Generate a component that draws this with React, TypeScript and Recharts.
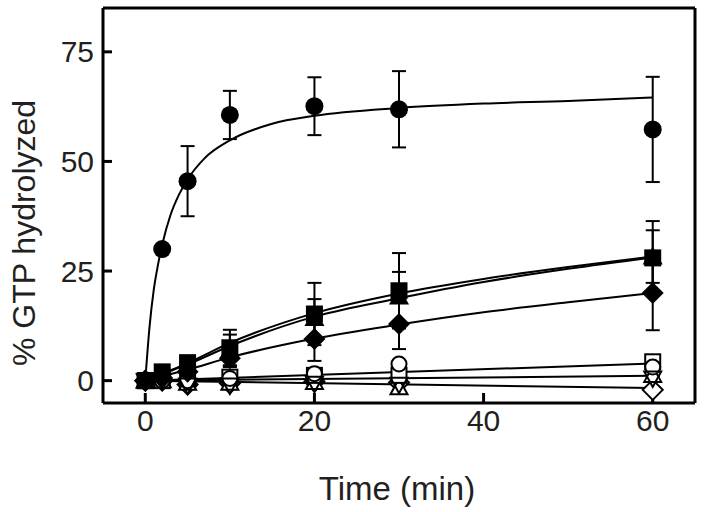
import React from "react";
import { ComposedChart, Scatter, XAxis, YAxis, ErrorBar } from "recharts";

// sampling times (min)
const times = [0, 2, 5, 10, 20, 30, 60];

// filled symbols
const filledCircle = [0, 30, 45.5, 60.6, 62.6, 61.9, 57.3];
const filledCircleErr = [0, 0, 8, 5.5, 6.6, 8.7, 12];
const filledTriangle = [0, 1.5, 3.6, 7, 14.3, 19.2, 28.3];
const filledTriangleErr = [0, 0, 0.5, 3.5, 4.3, 5.6, 6];
const filledSquare = [0, 2, 4.1, 7.5, 15.2, 20.5, 28];
const filledSquareErr = [0, 0, 0.6, 4.1, 7.1, 8.6, 8.4];
const filledDiamond = [0, 0.6, 2, 5.1, 9.5, 12.9, 20];
const filledDiamondErr = [0, 0, 1, 2, 5, 5.7, 8.5];

// open symbols
const openCircle = [0, 0, 0, 0.5, 1.6, 3.8, 3.1];
const openSquare = [0, 0, 0.4, 0.8, 1.2, 1.2, 4.3];
const openTriUp = [0, 0, -0.6, -0.6, -0.4, -1.6, 1.2];
const openTriDown = [0, 0, -1, -1, -0.6, -0.8, 0.6];
const openDiamond = [0, 0, -0.9, -0.6, -0.2, -0.4, -2.1];
const openDiamondErr = [0, 0, 0, 0, 0, 0, 3];

// fitted curves
const hypT = [0, 0.5, 1, 1.5, 2, 3, 4, 5, 7, 10, 15, 20, 30, 40, 50, 60];
const hypV = [0, 12.2, 20.7, 26.4, 31, 37.9, 42.5, 45.9, 50.7, 54.8, 58.6, 60.4, 62.2, 63.2, 63.8, 64.6];
const slowT = [0, 2, 5, 10, 20, 30, 40, 50, 60];
const fitSquare = [0, 1.6, 4, 8.6, 15.4, 19.9, 23.2, 25.9, 28.3];
const fitTriangle = [0, 1.5, 3.7, 7.9, 14.6, 18.8, 22.5, 25.5, 28.1];
const fitDiamond = [0, 1, 2.5, 5.3, 9.6, 12.8, 15.6, 17.9, 20];
const lineT = [0, 60];
const fitOpenHigh = [0, 3.9];
const fitOpenMid = [0, 1.1];
const fitOpenLow = [0, -1.7];

const rows = (ts: number[], vs: number[], es?: number[]) =>
  ts.map((t, i) => ({ t, v: vs[i], e: es ? es[i] : 0 }));

const INK = "#000";
const TEXT = "#231f20";
const FONT = "'Liberation Sans', Arial, sans-serif";

const Nothing = () => <g />;

const FCircle = (p: any) => <circle cx={p.cx} cy={p.cy} r={9} fill={INK} />;
const FSquare = (p: any) => (
  <rect x={p.cx - 8.5} y={p.cy - 8.5} width={17} height={17} fill={INK} />
);
const FTriangle = (p: any) => (
  <path d={`M${p.cx},${p.cy - 10} L${p.cx + 10},${p.cy + 8} L${p.cx - 10},${p.cy + 8}Z`} fill={INK} />
);
const FDiamond = (p: any) => (
  <path d={`M${p.cx},${p.cy - 11} L${p.cx + 11},${p.cy} L${p.cx},${p.cy + 11} L${p.cx - 11},${p.cy}Z`} fill={INK} />
);

const OCircle = (p: any) => (
  <circle cx={p.cx} cy={p.cy} r={7.5} fill="#fff" stroke={INK} strokeWidth={2} />
);
const OSquare = (p: any) => (
  <rect x={p.cx - 7.5} y={p.cy - 7.5} width={15} height={15} fill="#fff" stroke={INK} strokeWidth={2} />
);
const OTriUp = (p: any) => (
  <path d={`M${p.cx},${p.cy - 9} L${p.cx + 8.5},${p.cy + 6.5} L${p.cx - 8.5},${p.cy + 6.5}Z`} fill="#fff" stroke={INK} strokeWidth={2} />
);
const OTriDown = (p: any) => (
  <path d={`M${p.cx},${p.cy + 9} L${p.cx + 8.5},${p.cy - 6.5} L${p.cx - 8.5},${p.cy - 6.5}Z`} fill="none" stroke={INK} strokeWidth={2} />
);
const ODiamond = (p: any) => (
  <path d={`M${p.cx},${p.cy - 10} L${p.cx + 10},${p.cy} L${p.cx},${p.cy + 10} L${p.cx - 10},${p.cy}Z`} fill="#fff" stroke={INK} strokeWidth={2} />
);

const fitLine = (key: string, ts: number[], vs: number[]) => (
  <Scatter
    key={key}
    data={rows(ts, vs)}
    line={{ stroke: INK, strokeWidth: 2 }}
    lineJointType="monotoneX"
    shape={Nothing}
    isAnimationActive={false}
  />
);

const points = (key: string, vs: number[], shape: any, es?: number[]) => (
  <Scatter key={key} data={rows(times, vs, es)} shape={shape} isAnimationActive={false}>
    {es && (
      <ErrorBar dataKey="e" direction="y" width={7} stroke={INK} strokeWidth={2} />
    )}
  </Scatter>
);

const tickStyle = { fontSize: 30, fill: TEXT, fontFamily: FONT };

export default function App() {
  return (
    <div style={{ position: "absolute", left: 0, top: 0, background: "#fff" }}>
      <ComposedChart
        width={705}
        height={512}
        margin={{ top: 7, right: 9, bottom: 0, left: 0 }}
      >
        <XAxis
          type="number"
          dataKey="t"
          domain={[-5, 65]}
          ticks={[0, 20, 40, 60]}
          height={109}
          axisLine={{ stroke: INK, strokeWidth: 3 }}
          tickLine={{ stroke: INK, strokeWidth: 3 }}
          tickSize={-10}
          tickMargin={17}
          tick={tickStyle}
          label={() => (
            <text x={397} y={488} textAnchor="middle" dominantBaseline="central" fontSize={33} fill={TEXT} fontFamily={FONT}>
              Time (min)
            </text>
          )}
        />
        <XAxis
          xAxisId="top"
          orientation="top"
          type="number"
          dataKey="t"
          domain={[-5, 65]}
          ticks={[0, 20, 40, 60]}
          height={1}
          axisLine={{ stroke: INK, strokeWidth: 3 }}
          tickLine={{ stroke: INK, strokeWidth: 3 }}
          tickSize={-10}
          tick={false}
        />
        <YAxis
          type="number"
          dataKey="v"
          domain={[-5, 85]}
          ticks={[0, 25, 50, 75]}
          width={103}
          axisLine={{ stroke: INK, strokeWidth: 3 }}
          tickLine={{ stroke: INK, strokeWidth: 3 }}
          tickSize={-9}
          tickMargin={18}
          tick={tickStyle}
          label={() => (
            <text
              transform="translate(24,233) rotate(-90)"
              textAnchor="middle"
              dominantBaseline="central"
              fontSize={32}
              fill={TEXT}
              fontFamily={FONT}
            >
              % GTP hydrolyzed
            </text>
          )}
        />
        <YAxis
          yAxisId="right"
          orientation="right"
          type="number"
          domain={[-5, 85]}
          ticks={[0, 25, 50, 75]}
          width={1}
          axisLine={{ stroke: INK, strokeWidth: 3 }}
          tickLine={{ stroke: INK, strokeWidth: 3 }}
          tickSize={-9}
          tick={false}
        />

        {fitLine("fHyp", hypT, hypV)}
        {fitLine("fSq", slowT, fitSquare)}
        {fitLine("fTr", slowT, fitTriangle)}
        {fitLine("fDi", slowT, fitDiamond)}
        {fitLine("fOH", lineT, fitOpenHigh)}
        {fitLine("fOM", lineT, fitOpenMid)}
        {fitLine("fOL", lineT, fitOpenLow)}

        {points("oDi", openDiamond, ODiamond, openDiamondErr)}
        {points("oTu", openTriUp, OTriUp)}
        {points("oSq", openSquare, OSquare)}
        {points("oCi", openCircle, OCircle)}
        {points("oTd", openTriDown, OTriDown)}

        {points("fTr", filledTriangle, FTriangle, filledTriangleErr)}
        {points("fDi", filledDiamond, FDiamond, filledDiamondErr)}
        {points("fSq", filledSquare, FSquare, filledSquareErr)}
        {points("fCi", filledCircle, FCircle, filledCircleErr)}
      </ComposedChart>
    </div>
  );
}
